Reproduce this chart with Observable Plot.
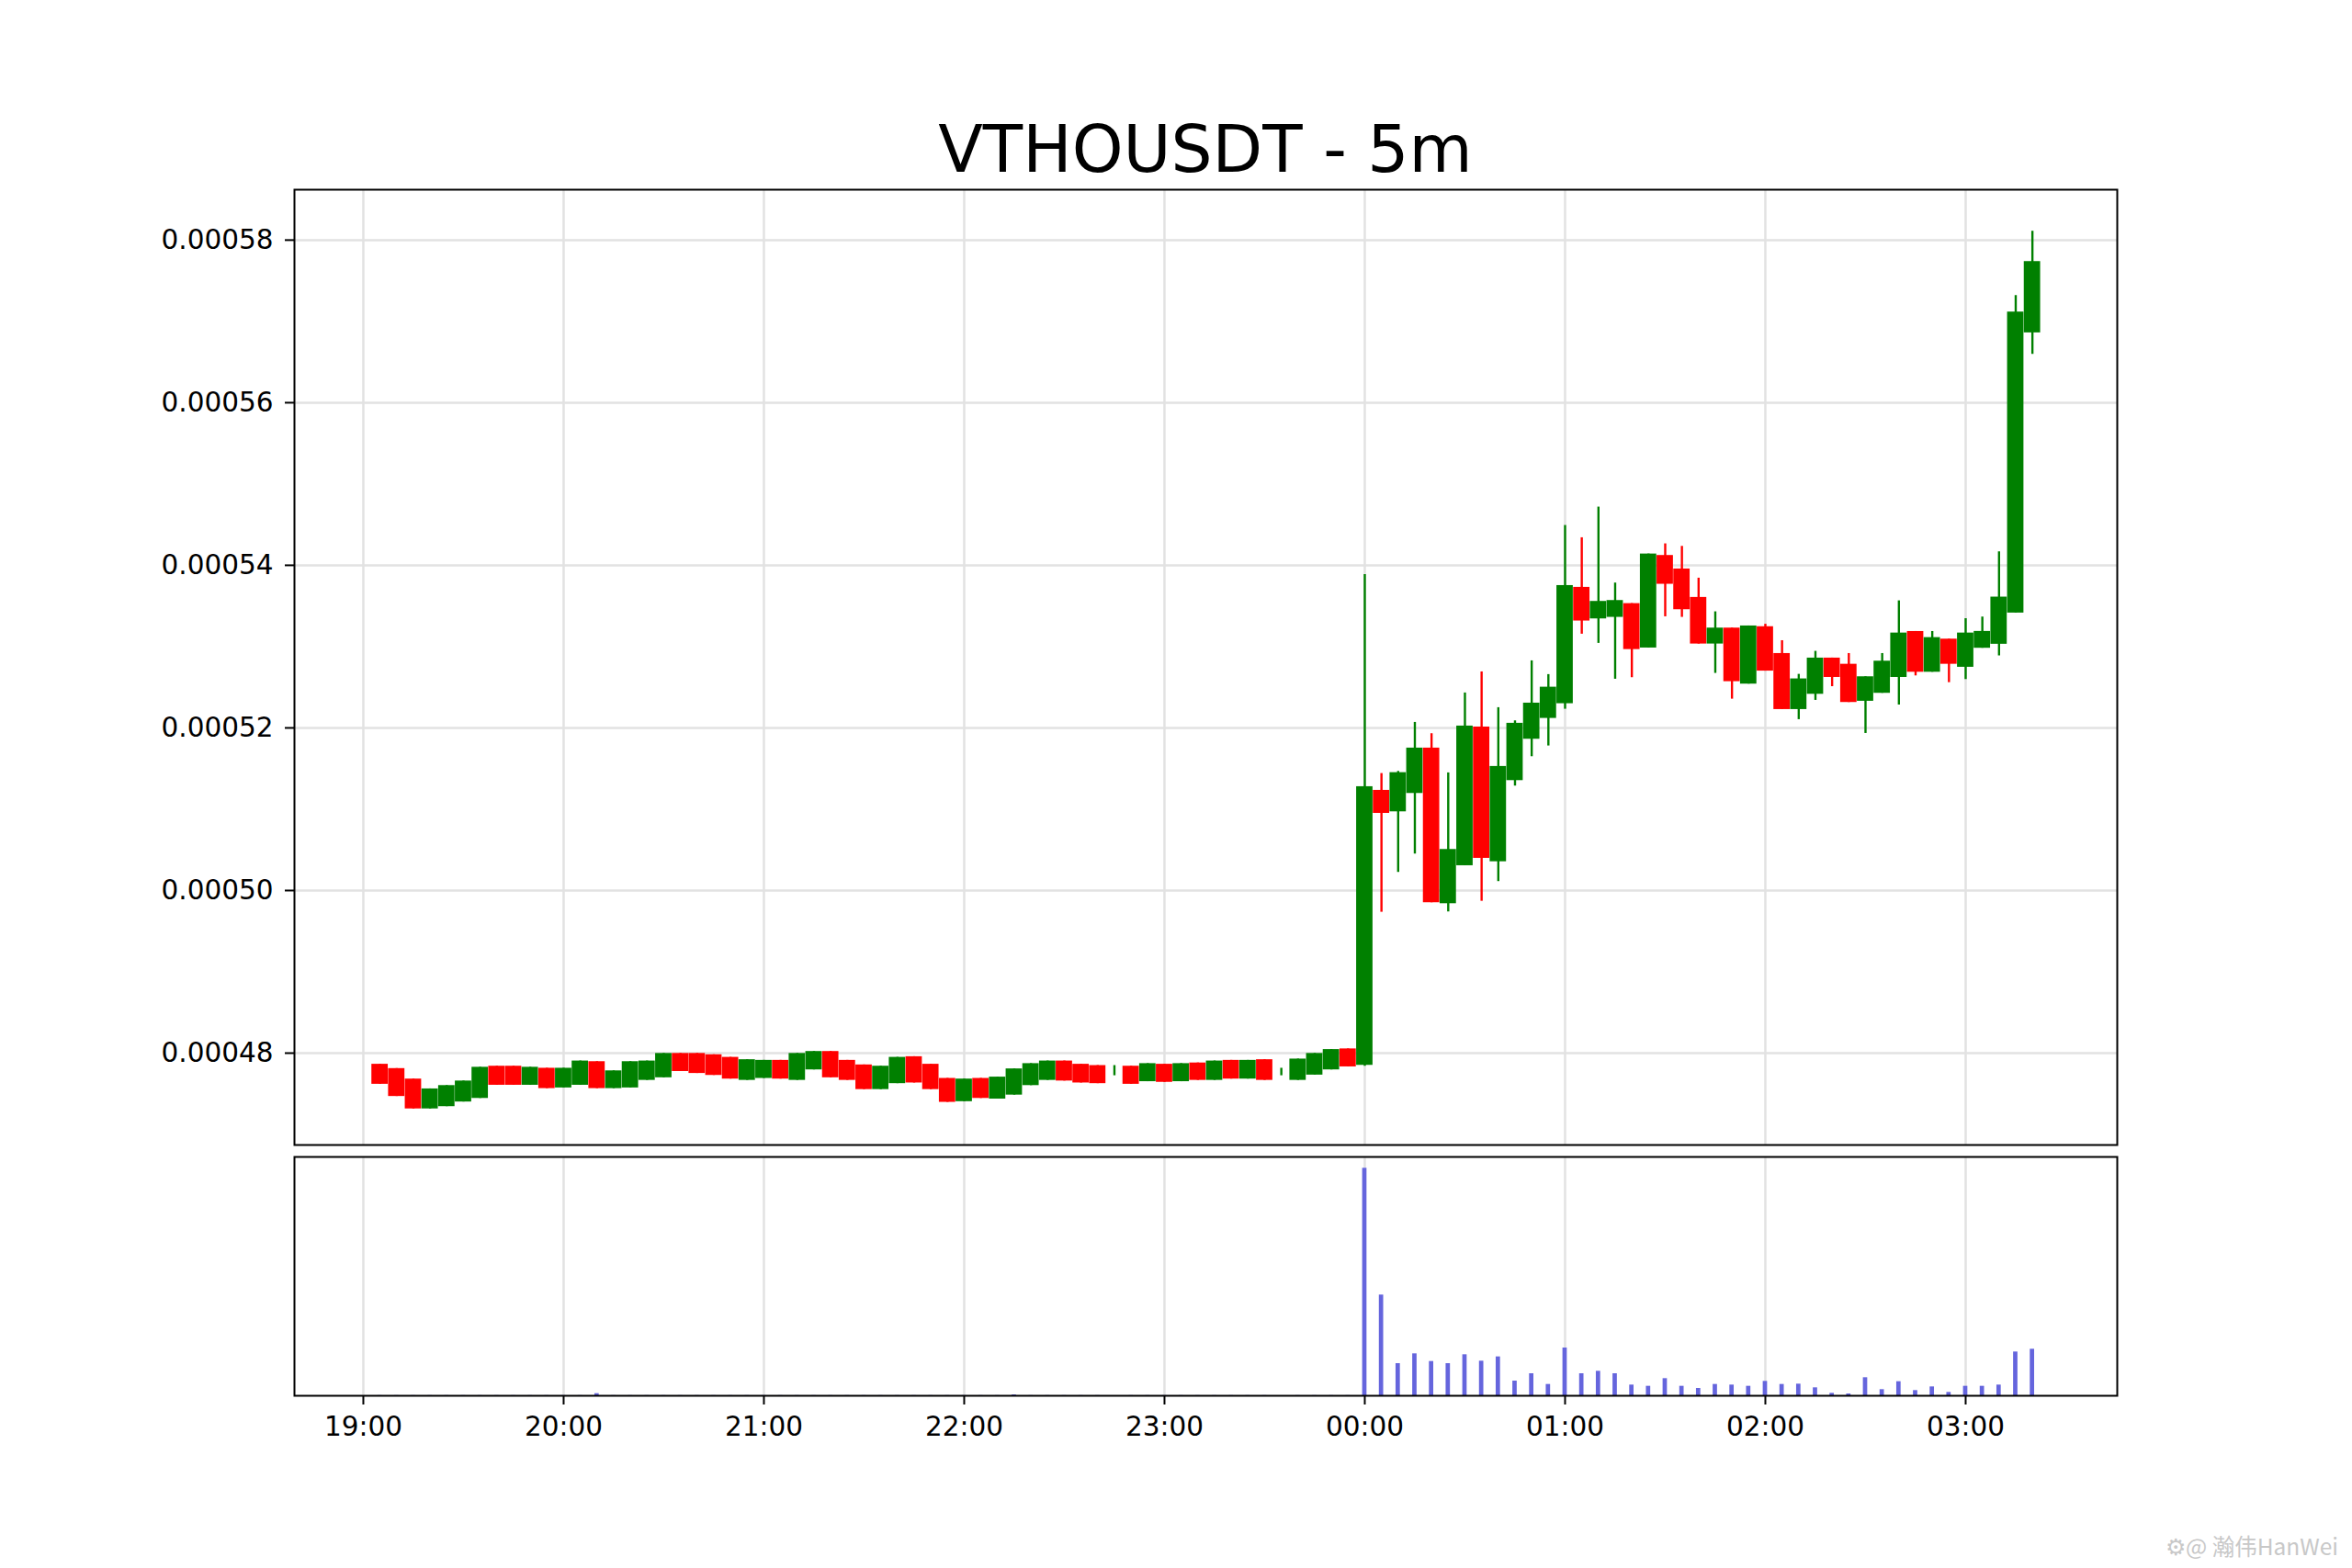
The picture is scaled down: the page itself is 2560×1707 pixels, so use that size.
<!DOCTYPE html>
<html>
<head>
<meta charset="utf-8">
<script src="https://cdn.jsdelivr.net/npm/d3@7"></script>
<script src="https://cdn.jsdelivr.net/npm/@observablehq/plot@0.6"></script>
<style>
  html, body { margin: 0; padding: 0; background: #ffffff; }
  #page { position: relative; width: 2560px; height: 1707px; background: #ffffff; overflow: hidden; font-family: "DejaVu Sans", sans-serif; }
  #title { position: absolute; left: 320px; width: 1984px; top: 118px; text-align: center; font-size: 71px; line-height: 90px; color: #000; }
  #main { position: absolute; left: 0; top: 196px; }
  #vol { position: absolute; left: 0; top: 1249px; }
  #wm { position: absolute; left: 2357px; top: 1665px; font-family: "Noto Sans CJK SC", "Noto Sans", sans-serif; font-size: 24.5px; color: #c8c8c8; white-space: nowrap; }
</style>
</head>
<body>
<div id="page">
  <div id="title">VTHOUSDT - 5m</div>
  <div id="main"></div>
  <div id="vol"></div>
  <div id="wm">⚙@ 瀚伟HanWei</div>
</div>
<script>
const times = [
  "19:05","19:10","19:15","19:20","19:25","19:30","19:35","19:40","19:45","19:50",
  "19:55","20:00","20:05","20:10","20:15","20:20","20:25","20:30","20:35","20:40",
  "20:45","20:50","20:55","21:00","21:05","21:10","21:15","21:20","21:25","21:30",
  "21:35","21:40","21:45","21:50","21:55","22:00","22:05","22:10","22:15","22:20",
  "22:25","22:30","22:35","22:40","22:45","22:50","22:55","23:00","23:05","23:10",
  "23:15","23:20","23:25","23:30","23:35","23:40","23:45","23:50","23:55",
  "00:00","00:05","00:10","00:15","00:20","00:25","00:30","00:35","00:40","00:45",
  "00:50","00:55","01:00","01:05","01:10","01:15","01:20","01:25","01:30","01:35",
  "01:40","01:45","01:50","01:55","02:00","02:05","02:10","02:15","02:20","02:25",
  "02:30","02:35","02:40","02:45","02:50","02:55","03:00","03:05","03:10","03:15",
  "03:20"
];
// prices in units of 1e-6 USDT
const opens = [
  478.63,478.10,476.81,473.14,473.42,473.99,474.43,478.39,478.39,476.05,
  478.14,475.72,476.05,478.95,475.64,475.72,476.65,476.97,479.96,479.96,
  479.80,479.48,476.65,476.89,479.11,476.65,477.94,480.20,479.11,478.55,
  475.52,476.25,479.56,478.63,476.89,474.03,476.89,474.35,474.84,476.01,
  476.65,479.03,478.63,478.47,477.50,478.39,476.49,478.63,476.49,478.79,
  476.65,479.11,476.81,479.19,477.50,476.65,477.30,477.94,480.52,
  478.50,512.32,509.68,511.94,517.52,498.38,503.05,520.11,503.54,513.52,
  518.61,521.17,522.98,537.29,533.41,533.60,535.29,529.83,541.21,539.55,
  536.05,530.32,532.28,525.39,532.45,529.15,522.26,524.14,528.59,527.83,
  523.28,524.26,526.21,531.86,526.85,530.92,527.46,529.80,530.29,534.13,
  568.59
];
const highs = [
  478.63,478.10,476.81,475.60,476.01,476.57,478.26,478.39,478.39,478.26,
  478.14,478.14,479.03,478.95,477.82,478.95,479.03,479.96,479.96,479.96,
  479.80,479.48,479.19,479.11,479.11,479.96,480.20,480.20,479.11,478.55,
  478.39,479.48,479.56,478.63,476.89,476.81,476.89,477.05,478.06,478.71,
  479.03,479.03,478.63,478.47,478.47,478.39,478.71,478.63,478.71,478.79,
  479.03,479.11,479.11,479.19,478.14,479.27,479.96,480.44,480.52,
  538.87,514.39,514.65,520.68,519.29,514.47,524.30,526.89,522.49,520.87,
  528.25,526.56,544.90,543.39,547.16,537.82,535.29,541.39,542.64,542.33,
  538.42,534.28,532.28,532.54,532.75,530.73,526.59,529.42,528.59,529.15,
  526.29,529.15,535.63,531.86,531.86,530.92,533.44,533.64,541.66,573.18,
  581.09
];
const lows = [
  476.17,474.67,473.14,473.14,473.42,473.99,474.43,476.05,476.05,476.05,
  475.64,475.72,476.05,475.64,475.64,475.72,476.65,476.97,477.74,477.50,
  477.26,476.81,476.65,476.89,476.81,476.65,477.94,476.97,476.65,475.52,
  475.52,476.25,476.33,475.52,473.95,474.03,474.43,474.35,474.84,476.01,
  476.65,476.57,476.33,476.25,477.22,476.17,476.49,476.41,476.49,476.65,
  476.65,476.81,476.81,476.65,477.22,476.65,477.30,477.94,478.31,
  478.40,497.33,502.23,504.49,498.50,497.37,503.05,498.68,501.10,512.85,
  516.46,517.78,522.30,531.53,530.40,525.99,526.18,529.83,533.67,533.60,
  530.32,526.71,523.54,525.39,526.99,522.26,521.02,523.39,525.08,523.13,
  519.32,524.26,522.82,526.40,526.85,525.57,525.95,529.80,528.86,534.13,
  565.95
];
const closes = [
  476.17,474.67,473.14,475.60,476.01,476.57,478.26,476.05,476.05,478.26,
  475.64,478.14,479.03,475.64,477.82,478.95,479.03,479.96,477.74,477.50,
  477.26,476.81,479.19,479.11,476.81,479.96,480.20,476.97,476.65,475.52,
  478.39,479.48,476.33,475.52,473.95,476.81,474.43,477.05,478.06,478.71,
  479.03,476.57,476.33,476.25,477.50,476.17,478.71,476.41,478.71,476.65,
  479.03,476.81,479.11,476.65,477.50,479.27,479.96,480.44,478.31,
  512.77,509.49,514.50,517.52,498.50,505.05,520.23,503.96,515.26,520.57,
  523.05,525.01,537.51,533.15,535.56,535.67,529.64,541.39,537.67,534.54,
  530.32,532.28,525.69,532.54,526.99,522.26,526.03,528.59,526.21,523.13,
  526.29,528.21,531.67,526.85,531.11,527.83,531.67,531.87,536.09,571.15,
  577.36
];
// relative volume (arbitrary units)
const volumes = [
  0.5,0.5,0.5,0.5,0.5,0.5,0.5,0.5,0.5,0.5,
  0.5,0.5,0.5,7,0.5,0.5,0.5,0.5,0.5,0.5,
  0.5,0.5,0.5,0.5,0.5,0.5,0.5,0.5,0.5,0.5,
  0.5,0.5,0.5,0.5,0.5,0.5,0.5,0.5,3,0.5,
  0.5,0.5,0.5,0.5,0,0.5,0.5,0.5,0.5,0.5,
  0.5,0.5,0.5,0.5,0,0.5,0.5,0.5,0.5,
  743,329,105,137,112,105,134,113,127,48,
  72,37,156,72,80,72,35,31,56,31,
  24,37,35,31,47,37,38,26,8,6,
  59,20,46,17,29,11,31,31,35,143,
  152
];
const yTicks = [0.00048, 0.00050, 0.00052, 0.00054, 0.00056, 0.00058];
const xTickLabels = ["19:00","20:00","21:00","22:00","23:00","00:00","01:00","02:00","03:00"];

const priceUnit = 1e-6;
function toDate(s) {
  const [h, m] = s.split(":").map(Number);
  const day = h >= 12 ? 1 : 2;
  return new Date(Date.UTC(2024, 0, day, h, m));
}
const candles = times.map((s, i) => ({
  t: toDate(s),
  open: opens[i] * priceUnit,
  high: highs[i] * priceUnit,
  low: lows[i] * priceUnit,
  close: closes[i] * priceUnit,
  volume: volumes[i]
}));
const xTicks = xTickLabels.map(toDate);
const MIN = 60000;
const xDomain = [new Date(Date.UTC(2024, 0, 1, 18, 39, 22)), new Date(Date.UTC(2024, 0, 2, 3, 45, 25))];
const upColor = "#008000", downColor = "#ff0000";
const colorOf = d => d.close >= d.open ? upColor : downColor;
const gridStyle = {stroke: "#e2e2e2", strokeOpacity: 1, strokeWidth: 2.5};
const fontStyle = {fontFamily: "DejaVu Sans", fontSize: "29.5px", color: "#000", background: "transparent", overflow: "visible"};

const main = Plot.plot({
  width: 2560,
  height: 1060,
  marginLeft: 320,
  marginRight: 256,
  marginTop: 10,
  marginBottom: 10,
  style: fontStyle,
  x: {type: "utc", domain: xDomain, axis: null},
  y: {domain: [0.0004687, 0.0005862]},
  color: {type: "identity"},
  marks: [
    Plot.gridX(xTicks, gridStyle),
    Plot.gridY(yTicks, gridStyle),
    Plot.ruleX(candles, {x: "t", y1: "low", y2: "high", stroke: colorOf, strokeWidth: 2.4}),
    Plot.rect(candles, {
      x1: d => new Date(+d.t - 2.45 * MIN),
      x2: d => new Date(+d.t + 2.45 * MIN),
      y1: "open", y2: "close",
      fill: colorOf
    }),
    Plot.frame({stroke: "#000", strokeWidth: 2}),
    Plot.axisY(yTicks, {
      tickFormat: d3.format(".5f"),
      tickSize: 10, tickPadding: 13, strokeWidth: 2,
      fontSize: 29.5, label: null, fill: "#000", stroke: "#000"
    })
  ]
});
document.getElementById("main").appendChild(main);

const vol = Plot.plot({
  width: 2560,
  height: 340,
  marginLeft: 320,
  marginRight: 256,
  marginTop: 10,
  marginBottom: 70,
  style: fontStyle,
  x: {type: "utc", domain: xDomain},
  y: {domain: [0, 780], axis: null},
  marks: [
    Plot.gridX(xTicks, gridStyle),
    Plot.rect(candles, {
      x1: d => new Date(+d.t - 0.65 * MIN),
      x2: d => new Date(+d.t + 0.65 * MIN),
      y1: 0, y2: "volume",
      fill: "#6565dd"
    }),
    Plot.frame({stroke: "#000", strokeWidth: 2}),
    Plot.axisX(xTicks, {
      tickFormat: d3.utcFormat("%H:%M"),
      tickSize: 10, tickPadding: 13, strokeWidth: 2,
      fontSize: 29.5, label: null, fill: "#000", stroke: "#000"
    })
  ]
});
document.getElementById("vol").appendChild(vol);
</script>
</body>
</html>
